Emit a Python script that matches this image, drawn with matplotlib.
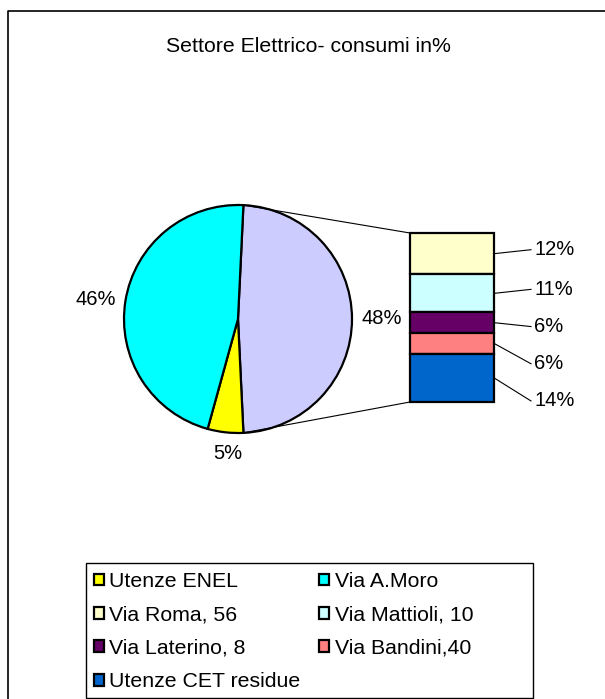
import matplotlib
matplotlib.use("Agg")
import matplotlib.pyplot as plt
from matplotlib.patches import Rectangle, Patch
import numpy as np

plt.rcParams['font.family'] = ['Liberation Sans', 'DejaVu Sans']

# ---------------- data ----------------
title = "Settore Elettrico- consumi in%"
pie_names = ["Utenze ENEL", "Via A.Moro", "Altre utenze"]
pie_values = [5, 46, 48]
pie_colors = ["#FFFF00", "#00FFFF", "#CCCCFF"]

bar_names = ["Via Roma, 56", "Via Mattioli, 10", "Via Laterino, 8",
             "Via Bandini,40", "Utenze CET residue"]
bar_values = [12, 11, 6, 6, 14]
bar_colors = ["#FFFFCC", "#CCFFFF", "#660066", "#FF8080", "#0066CC"]

# ---------------- layout ----------------
W, H = 605, 699
fig = plt.figure(figsize=(W / 100, H / 100), dpi=100)
ax = fig.add_axes([0, 0, 1, 1])

cx, cy, r = 238, H - 319, 114

# pie: "other" slice (last) centred on the right, then yellow, then cyan clockwise
order = [2, 0, 1]
vals = [pie_values[i] for i in order]
cols = [pie_colors[i] for i in order]
total = sum(pie_values)
start = 0.5 * pie_values[2] / total * 360
wedges, _ = ax.pie(vals, colors=cols, startangle=start, counterclock=False,
                   center=(cx, cy), radius=r, frame=True,
                   wedgeprops=dict(edgecolor='black', linewidth=1.6))

fs_lab = 14.5
label_offsets = {48: (0, 0), 5: (5, 0), 46: (0, -3)}
for w, v in zip(wedges, vals):
    mid = np.deg2rad((w.theta1 + w.theta2) / 2)
    d = 1.26 if v > 10 else 1.19
    ox, oy = label_offsets.get(v, (0, 0))
    ax.text(cx + d * r * np.cos(mid) + ox, cy + d * r * np.sin(mid) + oy, f"{v}%",
            ha='center', va='center', fontsize=fs_lab)

# bar of the "other" slice
bx0, bx1 = 410, 494
btop, bbot = H - 233, H - 402
scale = (btop - bbot) / sum(bar_values)
heights = [v * scale for v in bar_values]
bottoms = [btop - sum(heights[:i + 1]) for i in range(len(heights))]
ax.bar([(bx0 + bx1) / 2] * len(heights), heights, width=bx1 - bx0,
       bottom=bottoms, color=bar_colors, edgecolor='black', linewidth=1.6)

# connector lines
other = wedges[0]
t_top = np.deg2rad(max(other.theta1, other.theta2))
t_bot = np.deg2rad(min(other.theta1, other.theta2))
ax.plot([cx + r * np.cos(t_top), bx0], [cy + r * np.sin(t_top), btop],
        color='black', lw=0.8)
ax.plot([cx + r * np.cos(t_bot), bx0], [cy + r * np.sin(t_bot), bbot],
        color='black', lw=0.8)

# bar labels with leader lines
prev = None
for hgt, b, v in zip(heights, bottoms, bar_values):
    mid = b + hgt / 2
    ly = mid + 4
    if prev is not None:
        ly = min(ly, prev - 37.2)
    prev = ly
    ax.plot([bx1, 531], [mid, ly], color='black', lw=0.8)
    ax.text(534, ly, f"{v}%", ha='left', va='center', fontsize=fs_lab)

# title
ax.text(308, H - 47, title, ha='center', va='center', fontsize=15.3)

# outer chart border
ax.plot([8, 8, W + 5], [-5, H - 11, H - 11], color='black', lw=1.2)

# legend
leg_names = [pie_names[0], pie_names[1]] + bar_names
leg_cols = [pie_colors[0], pie_colors[1]] + bar_colors
handles = [Patch(facecolor=c, edgecolor='black', linewidth=1.6, label=n)
           for n, c in zip(leg_names, leg_cols)]
colorder = [0, 2, 4, 6, 1, 3, 5]
handles = [handles[i] for i in colorder]
fs_leg = 15.3
ax.add_patch(Rectangle((86, 1.3), 447, H - 563 - 1.3, fill=False,
                       edgecolor='black', lw=1.0))
fig.legend(handles=handles, loc='upper left', ncol=2,
           bbox_to_anchor=(94 / W, 1 - 572.0 / H), bbox_transform=fig.transFigure,
           frameon=False, fontsize=fs_leg, borderpad=0, borderaxespad=0,
           handlelength=0.47, handleheight=0.47, handletextpad=0.24,
           labelspacing=0.68, columnspacing=0.9)

ax.set_xlim(0, W)
ax.set_ylim(0, H)
ax.axis('off')

fig.savefig("out.png", dpi=100)
